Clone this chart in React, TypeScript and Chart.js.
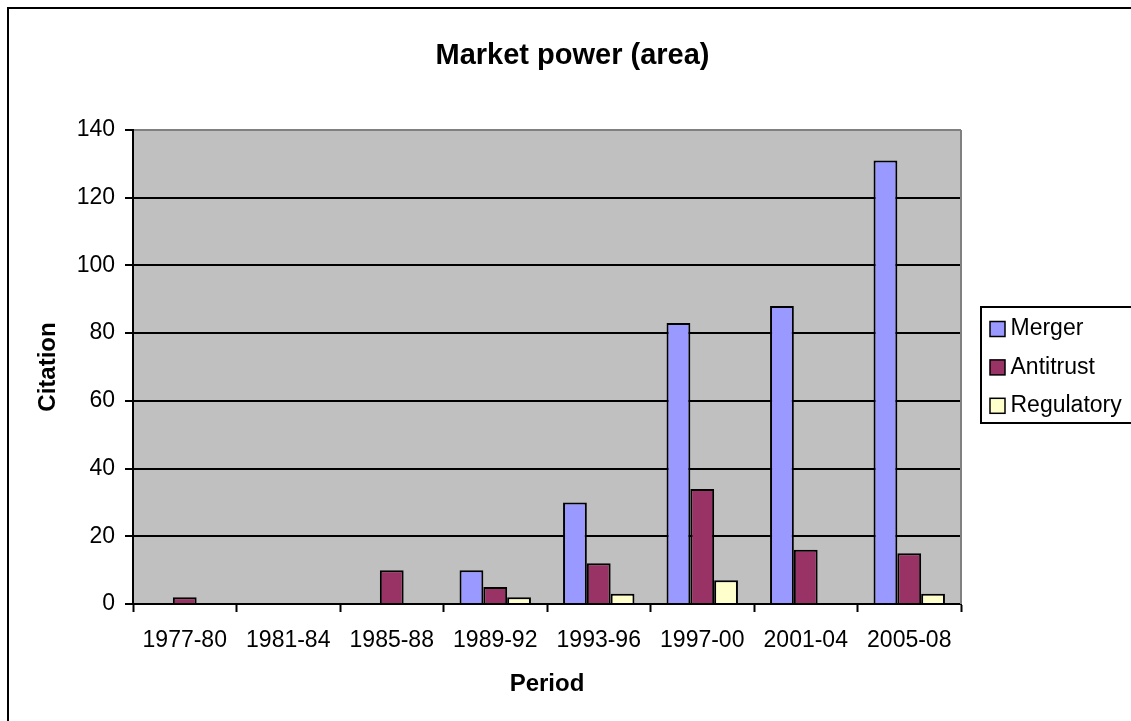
import React, { useEffect, useRef } from 'react';
import { Chart, registerables } from 'chart.js';

Chart.register(...registerables);

const periods = ['1977-80', '1981-84', '1985-88', '1989-92', '1993-96', '1997-00', '2001-04', '2005-08'];
const merger = [0, 0, 0, 10, 30, 83, 88, 131];
const antitrust = [2, 0, 10, 5, 12, 34, 16, 15];
const regulatory = [0, 0, 0, 2, 3, 7, 0, 3];

const FONT = '"Liberation Sans", Arial, sans-serif';
const W = 1131;
const H = 716;

const framePlugin = {
  id: 'frame',
  beforeDraw(chart: any) {
    const { ctx, chartArea } = chart;
    ctx.save();
    ctx.fillStyle = '#ffffff';
    ctx.fillRect(0, 0, chart.width, chart.height);
    ctx.lineWidth = 2;
    ctx.strokeStyle = '#000000';
    ctx.strokeRect(1, 1, chart.width - 2, chart.height - 2);
    ctx.fillStyle = '#C0C0C0';
    ctx.fillRect(chartArea.left, chartArea.top, chartArea.right - chartArea.left, chartArea.bottom - chartArea.top);
    ctx.restore();
  },
  afterDraw(chart: any) {
    const { ctx, chartArea } = chart;
    ctx.save();
    ctx.strokeStyle = '#808080';
    ctx.lineWidth = 2;
    ctx.beginPath();
    ctx.moveTo(chartArea.right, chartArea.top);
    ctx.lineTo(chartArea.right, chartArea.bottom);
    ctx.stroke();
    ctx.restore();
  },
};

const legendPlugin = {
  id: 'boxLegend',
  afterDraw(chart: any) {
    const { ctx } = chart;
    const ds = chart.data.datasets;
    ctx.save();
    ctx.lineWidth = 2;
    ctx.strokeStyle = '#000000';
    ctx.strokeRect(974, 300, 160, 116);
    ds.forEach((d: any, i: number) => {
      const cy = 322 + i * 38.4;
      ctx.fillStyle = d.backgroundColor;
      ctx.fillRect(983, cy - 7.5, 15, 15);
      ctx.lineWidth = 1.5;
      ctx.strokeStyle = '#000000';
      ctx.strokeRect(983, cy - 7.5, 15, 15);
      ctx.fillStyle = '#000000';
      ctx.font = `23px ${FONT}`;
      ctx.textBaseline = 'middle';
      ctx.textAlign = 'left';
      ctx.fillText(d.label, 1003.5, cy);
    });
    ctx.restore();
  },
};

export default function App() {
  const ref = useRef<HTMLCanvasElement>(null);

  useEffect(() => {
    if (!ref.current) return;
    const barCommon = {
      borderColor: '#000000',
      borderWidth: 2,
      categoryPercentage: 0.69,
      barPercentage: 1,
    };
    const chart = new Chart(ref.current, {
      type: 'bar',
      data: {
        labels: periods,
        datasets: [
          { label: 'Merger', data: merger, backgroundColor: '#9999FF', ...barCommon },
          { label: 'Antitrust', data: antitrust, backgroundColor: '#993366', ...barCommon },
          { label: 'Regulatory', data: regulatory, backgroundColor: '#FFFFCC', ...barCommon },
        ],
      },
      options: {
        responsive: false,
        animation: false,
        devicePixelRatio: 1,
        layout: { padding: 0 },
        plugins: {
          legend: { display: false },
          tooltip: { enabled: false },
          title: {
            display: true,
            text: 'Market power (area)',
            color: '#000000',
            font: { family: FONT, size: 29, weight: 'bold' },
            padding: { top: 31.6, bottom: 56.6 },
          },
        },
        scales: {
          x: {
            offset: true,
            grid: {
              offset: true,
              drawOnChartArea: false,
              drawTicks: true,
              tickLength: 8,
              tickColor: '#000000',
              tickWidth: 2,
              color: '#000000',
            },
            border: { display: true, color: '#000000', width: 2, z: 1 },
            ticks: {
              color: '#000000',
              font: { family: FONT, size: 23 },
              padding: 15.2,
              maxRotation: 0,
              autoSkip: false,
            },
            title: {
              display: true,
              text: 'Period',
              color: '#000000',
              font: { family: FONT, size: 24, weight: 'bold' },
              padding: { top: 0, bottom: 24.6 },
            },
            afterFit: (s: any) => {
              s.height = H - 597;
            },
          },
          y: {
            min: 0,
            max: 140,
            ticks: {
              stepSize: 20,
              color: '#000000',
              font: { family: FONT, size: 23 },
              padding: 10,
            },
            grid: {
              color: (c: any) => (c.tick && c.tick.value === 140 ? '#808080' : '#000000'),
              lineWidth: 2,
              tickLength: 8,
              tickColor: '#000000',
              tickWidth: 2,
            },
            border: { display: true, color: '#000000', width: 2, z: 1 },
            title: {
              display: true,
              text: 'Citation',
              color: '#000000',
              font: { family: FONT, size: 24, weight: 'bold' },
              padding: { top: 27, bottom: 0 },
            },
            afterFit: (s: any) => {
              s.width = 126;
            },
          },
          spacer: {
            type: 'linear',
            position: 'right',
            display: true,
            grid: { display: false },
            border: { display: false },
            ticks: { display: false },
            afterFit: (s: any) => {
              s.width = W - 954;
            },
          },
        },
      } as any,
      plugins: [framePlugin, legendPlugin],
    });
    return () => chart.destroy();
  }, []);

  return (
    <div style={{ position: 'fixed', left: 7, top: 7, width: 1124, height: 714, overflow: 'hidden' }}>
      <canvas ref={ref} width={W} height={H} style={{ display: 'block', width: W, height: H }} />
    </div>
  );
}
